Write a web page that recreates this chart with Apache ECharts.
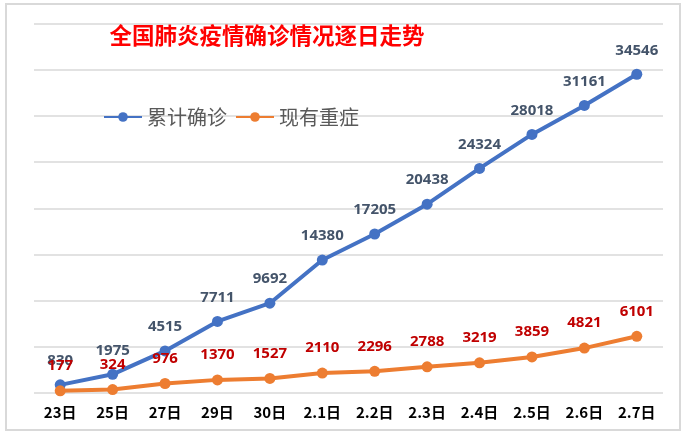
<!DOCTYPE html>
<html><head><meta charset="utf-8">
<script src="https://cdn.jsdelivr.net/npm/echarts@6/dist/echarts.min.js"></script>
<style>html,body{margin:0;padding:0;background:#fff}#c{width:686px;height:435px}</style>
</head><body><div id="c"></div>
<script>
const categories = ['23日','25日','27日','29日','30日','2.1日','2.2日','2.3日','2.4日','2.5日','2.6日','2.7日'];
const confirmed = [830,1975,4515,7711,9692,14380,17205,20438,24324,28018,31161,34546];
const severe = [177,324,976,1370,1527,2110,2296,2788,3219,3859,4821,6101];
const seriesNames = ['累计确诊','现有重症'];
const titleText = '全国肺炎疫情确诊情况逐日走势';

const chart = echarts.init(document.getElementById('c'), null, {renderer:'canvas'});
chart.setOption({
  animation:false,
  backgroundColor:'#fff',
  graphic:[{type:'rect',shape:{x:6,y:4,width:674,height:426},style:{fill:'none',stroke:'#d9d9d9',lineWidth:2},silent:true,z:-1}],
  title:{text:titleText,left:262,textAlign:'center',top:19,
    textStyle:{color:'#ff0000',fontSize:22.5,fontWeight:'bold',fontFamily:'Noto Sans CJK SC'}},
  legend:{left:98,top:102,itemWidth:38,itemHeight:12,itemGap:8,
    textStyle:{color:'#595959',fontSize:20,fontFamily:'Noto Sans CJK SC'},
    data:seriesNames},
  grid:{left:34,right:23,top:24,bottom:42.5},
  xAxis:{type:'category',data:categories,boundaryGap:true,
    axisLine:{show:false},axisTick:{show:false},
    axisLabel:{color:'#000',fontSize:15,fontWeight:'bold',fontFamily:'Noto Sans CJK SC',margin:12}},
  yAxis:{type:'value',min:0,max:40000,interval:5000,
    axisLabel:{show:false},axisLine:{show:false},axisTick:{show:false},
    splitLine:{lineStyle:{color:'#d9d9d9',width:1.5}}},
  series:[
    {name:seriesNames[0],type:'line',data:confirmed,symbol:'circle',symbolSize:11,
      itemStyle:{color:'#4472c4'},lineStyle:{color:'#4472c4',width:4},
      label:{show:true,position:'top',distance:11,color:'#44546a',fontSize:15,fontWeight:'bold',fontFamily:'Open Sans'}},
    {name:seriesNames[1],type:'line',data:severe,symbol:'circle',symbolSize:11,
      itemStyle:{color:'#ed7d31'},lineStyle:{color:'#ed7d31',width:4},
      label:{show:true,position:'top',distance:12,color:'#c00000',fontSize:15,fontWeight:'bold',fontFamily:'Open Sans'}}
  ]
});
</script></body></html>
